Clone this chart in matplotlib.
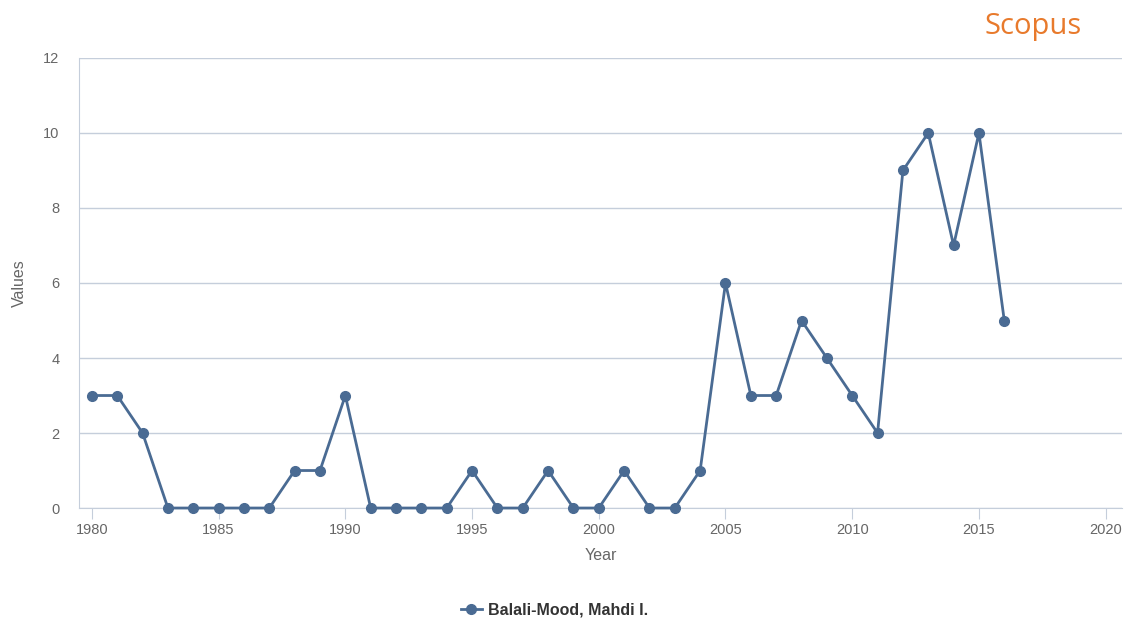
import matplotlib.pyplot as plt

plt.rcParams["font.family"] = ["Liberation Sans", "DejaVu Sans"]

years = list(range(1980, 2017))
values = [3, 3, 2, 0, 0, 0, 0, 0, 1, 1, 3, 0, 0, 0, 0, 1, 0, 0, 1, 0,
          0, 1, 0, 0, 1, 6, 3, 3, 5, 4, 3, 2, 9, 10, 7, 10, 5]
series_name = "Balali-Mood, Mahdi I."
xticks = [1980, 1985, 1990, 1995, 2000, 2005, 2010, 2015, 2020]
yticks = [0, 2, 4, 6, 8, 10, 12]

line_color = "#4a6b93"
grid_color = "#c5cedb"
text_color = "#666666"

fig = plt.figure(figsize=(11.25, 6.2), dpi=100)
ax = fig.add_axes([0.0702, 0.1806, 0.9268, 0.7259])

ax.plot(years, values, color=line_color, marker="o", markersize=7,
        linewidth=2, label=series_name, clip_on=False, zorder=3)

ax.set_xlim(1979.49, 2020.63)
ax.set_ylim(0, 12)
ax.set_xticks(xticks)
ax.set_yticks(yticks)
ax.yaxis.grid(True, color=grid_color, linewidth=1)
ax.set_axisbelow(True)

for s in ["top", "right"]:
    ax.spines[s].set_visible(False)
ax.spines["left"].set_color(grid_color)
ax.spines["bottom"].set_color(grid_color)
ax.tick_params(axis="y", length=0, pad=14, labelcolor=text_color, labelsize=10.5)
ax.tick_params(axis="x", length=8, color=grid_color, pad=3, labelcolor=text_color, labelsize=10.5)

ax.set_xlabel("Year", color=text_color, fontsize=11.5, labelpad=8)
ax.set_ylabel("Values", color=text_color, fontsize=11.5, labelpad=12)

fig.text(0.918, 0.957, "Scopus", color="#e87a2c", fontsize=21, ha="center", va="center",
         family="Open Sans")

leg = fig.legend(loc="center", bbox_to_anchor=(0.493, 0.016), frameon=False,
                 handlelength=1.3, handletextpad=0.4, fontsize=11.5)
for t in leg.get_texts():
    t.set_fontweight("bold")
    t.set_color("#333333")

fig.savefig("out.png")
